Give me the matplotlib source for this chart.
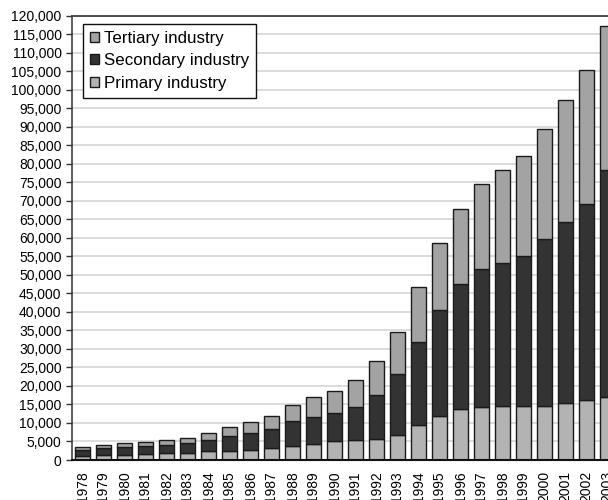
import matplotlib
matplotlib.use('Agg')
from matplotlib import pyplot as plt
from matplotlib.ticker import FuncFormatter, MultipleLocator
import numpy as np

years = [str(y) for y in range(1978, 2004)]
primary = [1018.4, 1258.9, 1359.4, 1545.6, 1761.6, 1960.8, 2295.5, 2541.6, 2763.9,
           3204.3, 3831.0, 4228.0, 5017.0, 5288.6, 5800.0, 6882.1, 9457.2, 11993.0,
           13844.2, 14211.2, 14552.4, 14472.0, 14628.2, 15411.8, 16117.3, 17092.1]
secondary = [1745.2, 1913.5, 2192.0, 2255.5, 2383.0, 2646.2, 3105.7, 3866.6, 4492.7,
             5251.6, 6587.2, 7278.0, 7717.4, 9102.2, 11699.5, 16428.5, 22372.2, 28537.9,
             33612.9, 37222.7, 38619.3, 40557.8, 44935.3, 48750.0, 52980.2, 61274.1]
tertiary = [860.5, 865.8, 966.4, 1061.3, 1150.1, 1327.5, 1769.8, 2556.2, 2945.6,
            3506.6, 4510.1, 5403.2, 5813.5, 7227.0, 9138.6, 11323.8, 14930.0, 17947.2,
            20427.5, 23028.7, 25173.5, 27037.7, 29904.6, 33153.0, 36074.8, 38885.7]

plt.rcParams['font.family'] = ['Liberation Sans', 'DejaVu Sans']

fig = plt.figure(figsize=(6.08, 5.0), dpi=100)
# axes runs past the right edge of the figure, like the cropped original
ax = fig.add_axes([72 / 608, 40 / 500, 546 / 608, 444.5 / 500])

x = np.arange(len(years))
w = 0.71
edge = dict(edgecolor='#1a1a1a', linewidth=1.0)
b1 = ax.bar(x, primary, w, color='#b3b3b3', label='Primary industry', **edge)
b2 = ax.bar(x, secondary, w, bottom=primary, color='#333333',
            label='Secondary industry', **edge)
bot2 = np.array(primary) + np.array(secondary)
b3 = ax.bar(x, tertiary, w, bottom=bot2, color='#a3a3a3',
            label='Tertiary industry', **edge)

ax.set_xlim(-0.5, len(years) - 0.5)
ax.set_ylim(0, 120000)
ax.yaxis.set_major_locator(MultipleLocator(5000))
ax.yaxis.set_major_formatter(FuncFormatter(lambda v, p: f'{int(v):,}'))
ax.set_xticks(x)
ax.set_xticklabels(years, rotation=90, fontsize=10)
ax.tick_params(axis='x', length=0, pad=8)
ax.tick_params(axis='y', length=4, width=1, color='#333333', pad=3.5, labelsize=10)

ax.set_axisbelow(True)
ax.grid(axis='y', color='#d2d2d2', linewidth=1.1)
ax.spines['right'].set_visible(False)
ax.spines['top'].set_color('#404040')
ax.spines['top'].set_linewidth(1.3)
ax.spines['left'].set_color('#333333')
ax.spines['left'].set_linewidth(1.1)
ax.spines['bottom'].set_color('#111111')
ax.spines['bottom'].set_linewidth(1.5)

leg = ax.legend([b3, b2, b1], ['Tertiary industry', 'Secondary industry', 'Primary industry'],
                loc='upper left', bbox_to_anchor=(0.0201, 0.981), borderaxespad=0,
                fontsize=12.2, fancybox=False, framealpha=1, edgecolor='#111111',
                handlelength=0.55, handleheight=0.55, handletextpad=0.3,
                borderpad=0.4, labelspacing=0.45)
leg.get_frame().set_linewidth(1.0)

fig.savefig('out.png', dpi=100)
